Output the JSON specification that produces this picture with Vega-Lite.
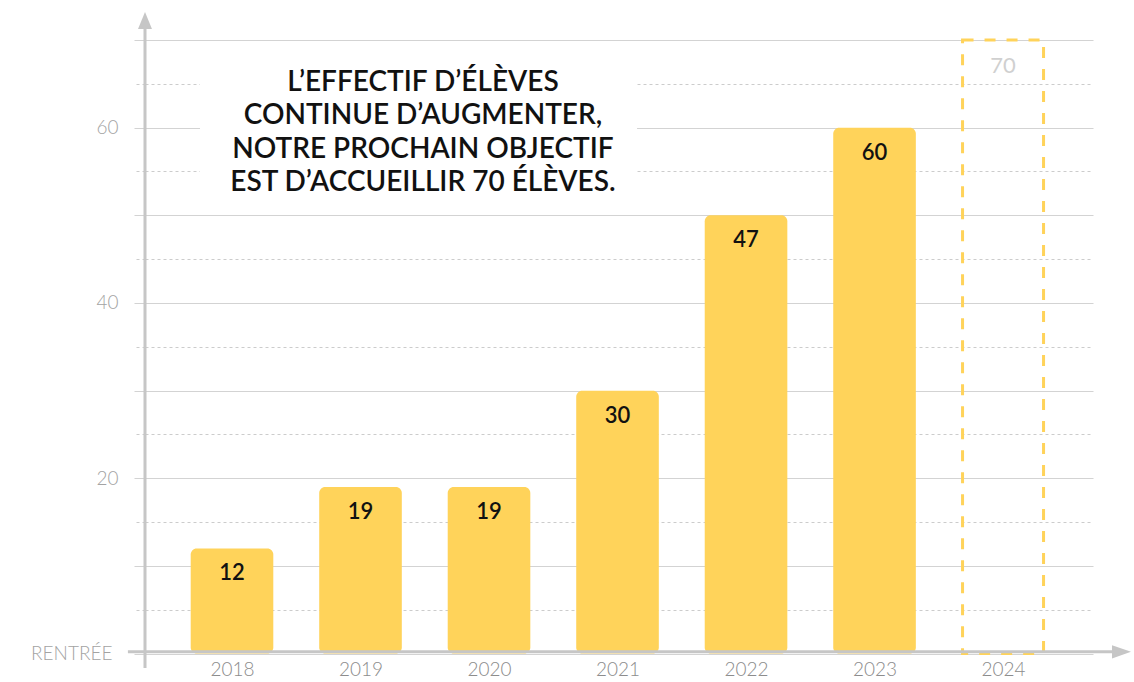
{
  "$schema": "https://vega.github.io/schema/vega-lite/v6.json",
  "autosize": {"type": "none"},
  "padding": {"left": 145, "top": 40, "right": 41, "bottom": 28.4},
  "width": 948,
  "height": 613.6,
  "background": "#ffffff",
  "config": {"view": {"stroke": null}},
  "datasets": {
    "rentrees": [
      {"annee": 2018, "eleves": 12, "etiquette": "12"},
      {"annee": 2019, "eleves": 19, "etiquette": "19"},
      {"annee": 2020, "eleves": 19, "etiquette": "19"},
      {"annee": 2021, "eleves": 30, "etiquette": "30"},
      {"annee": 2022, "eleves": 50, "etiquette": "47"},
      {"annee": 2023, "eleves": 60, "etiquette": "60"}
    ],
    "objectif": [
      {"annee": 2024, "eleves": 70, "etiquette": "70"}
    ],
    "cadre": [
      {"x": 2017.751, "x2": 2021.152, "y": 50.15, "y2": 68.3}
    ],
    "axes": [
      {"x": 2017.323, "x2": 2017.323, "y": -1.64, "y2": 71.25},
      {"x": 2017.19, "x2": 2024.85, "y": 0.2, "y2": 0.2}
    ],
    "flecheY": [{"x": 2017.323, "y": 72.22}],
    "flecheX": [{"x": 2024.922, "y": 0.2}],
    "titre": [
      {"x": 2019.486, "y": 65.1, "texte": ["L’EFFECTIF D’ÉLÈVES", "CONTINUE D’AUGMENTER,", "NOTRE PROCHAIN OBJECTIF", "EST D’ACCUEILLIR 70 ÉLÈVES."]}
    ]
  },
  "layer": [
    {
      "data": {"name": "cadre"},
      "mark": {"type": "rect", "fill": "#ffffff"},
      "encoding": {
        "x": {
          "field": "x", "type": "quantitative", "title": null,
          "scale": {"domain": [2017.323, 2024.70], "nice": false, "zero": false, "padding": 0},
          "axis": {
            "values": [2018, 2019, 2020, 2021, 2022, 2023, 2024],
            "format": "d",
            "domain": false,
            "ticks": false,
            "grid": false,
            "labelFontSize": 19,
            "labelColor": "#8c8c8c",
            "labelFont": "Lato",
            "labelFontWeight": 300,
            "labelPadding": 7,
            "labelFlush": false,
            "title": null
          }
        },
        "x2": {"field": "x2"},
        "y": {
          "field": "y", "type": "quantitative", "title": null,
          "scale": {"domain": [0, 70], "nice": false, "zero": true, "padding": 0},
          "axis": {
            "values": [0, 5, 10, 15, 20, 25, 30, 35, 40, 45, 50, 55, 60, 65, 70],
            "domain": false,
            "grid": true,
            "gridColor": {"condition": {"test": "datum.value % 10 !== 0", "value": "#cccccc"}, "value": "#d3d3d3"},
            "gridDash": {"condition": {"test": "datum.value % 10 !== 0", "value": [3, 3]}, "value": []},
            "gridWidth": 1,
            "ticks": true,
            "tickSize": 11,
            "tickColor": {"condition": {"test": "datum.value % 10 !== 0", "value": "#cccccc"}, "value": "#d3d3d3"},
            "tickDash": {"condition": {"test": "datum.value % 10 !== 0", "value": [3, 3]}, "value": []},
            "labelExpr": "datum.value === 0 ? 'RENTRÉE' : (datum.value % 20 === 0 ? datum.label : '')",
            "labelFontSize": 19,
            "labelColor": "#a3a3a3",
            "labelFont": "Lato",
            "labelFontWeight": 300,
            "labelPadding": {"condition": {"test": "datum.value === 0", "value": 22}, "value": 16},
            "title": null
          }
        },
        "y2": {"field": "y2"}
      }
    },
    {
      "data": {"name": "rentrees"},
      "mark": {"type": "bar", "orient": "vertical", "width": 82.6, "cornerRadius": 6, "color": "#FFD35A"},
      "encoding": {
        "x": {"field": "annee", "type": "quantitative", "title": null},
        "y": {"field": "eleves", "type": "quantitative", "title": null},
        "y2": {"datum": 0}
      }
    },
    {
      "data": {"name": "objectif"},
      "mark": {"type": "bar", "orient": "vertical", "width": 81, "fill": null, "fillOpacity": 0, "stroke": "#FFD35A", "strokeWidth": 3, "strokeDash": [11, 11]},
      "encoding": {
        "x": {"field": "annee", "type": "quantitative", "title": null},
        "y": {"field": "eleves", "type": "quantitative", "title": null},
        "y2": {"datum": 0}
      }
    },
    {
      "data": {"name": "rentrees"},
      "mark": {"type": "text", "dy": 25, "baseline": "middle", "align": "center", "font": "Lato", "fontSize": 22, "fontWeight": 600, "color": "#111111"},
      "encoding": {
        "x": {"field": "annee", "type": "quantitative", "title": null},
        "y": {"field": "eleves", "type": "quantitative", "title": null},
        "text": {"field": "etiquette"}
      }
    },
    {
      "data": {"name": "objectif"},
      "mark": {"type": "text", "dy": 26, "baseline": "middle", "align": "center", "font": "Lato", "fontSize": 22, "fontWeight": 400, "color": "#d0d0d0"},
      "encoding": {
        "x": {"field": "annee", "type": "quantitative", "title": null},
        "y": {"field": "eleves", "type": "quantitative", "title": null},
        "text": {"field": "etiquette"}
      }
    },
    {
      "data": {"name": "axes"},
      "mark": {"type": "rule", "color": "#c6c6c6", "strokeWidth": 3},
      "encoding": {
        "x": {"field": "x", "type": "quantitative", "title": null},
        "x2": {"field": "x2"},
        "y": {"field": "y", "type": "quantitative", "title": null},
        "y2": {"field": "y2"}
      }
    },
    {
      "data": {"name": "flecheY"},
      "mark": {"type": "point", "shape": "M-0.82,1L0,-1L0.82,1Z", "size": 289, "filled": true, "color": "#c6c6c6", "opacity": 1},
      "encoding": {
        "x": {"field": "x", "type": "quantitative", "title": null},
        "y": {"field": "y", "type": "quantitative", "title": null}
      }
    },
    {
      "data": {"name": "flecheX"},
      "mark": {"type": "point", "shape": "M-1,-0.7L1,0L-1,0.7Z", "size": 361, "filled": true, "color": "#c6c6c6", "opacity": 1},
      "encoding": {
        "x": {"field": "x", "type": "quantitative", "title": null},
        "y": {"field": "y", "type": "quantitative", "title": null}
      }
    },
    {
      "data": {"name": "titre"},
      "mark": {"type": "text", "align": "center", "baseline": "middle", "font": "Lato", "fontSize": 28, "fontWeight": 600, "lineHeight": 33.5, "color": "#111111"},
      "encoding": {
        "x": {"field": "x", "type": "quantitative", "title": null},
        "y": {"field": "y", "type": "quantitative", "title": null},
        "text": {"field": "texte"}
      }
    }
  ]
}
